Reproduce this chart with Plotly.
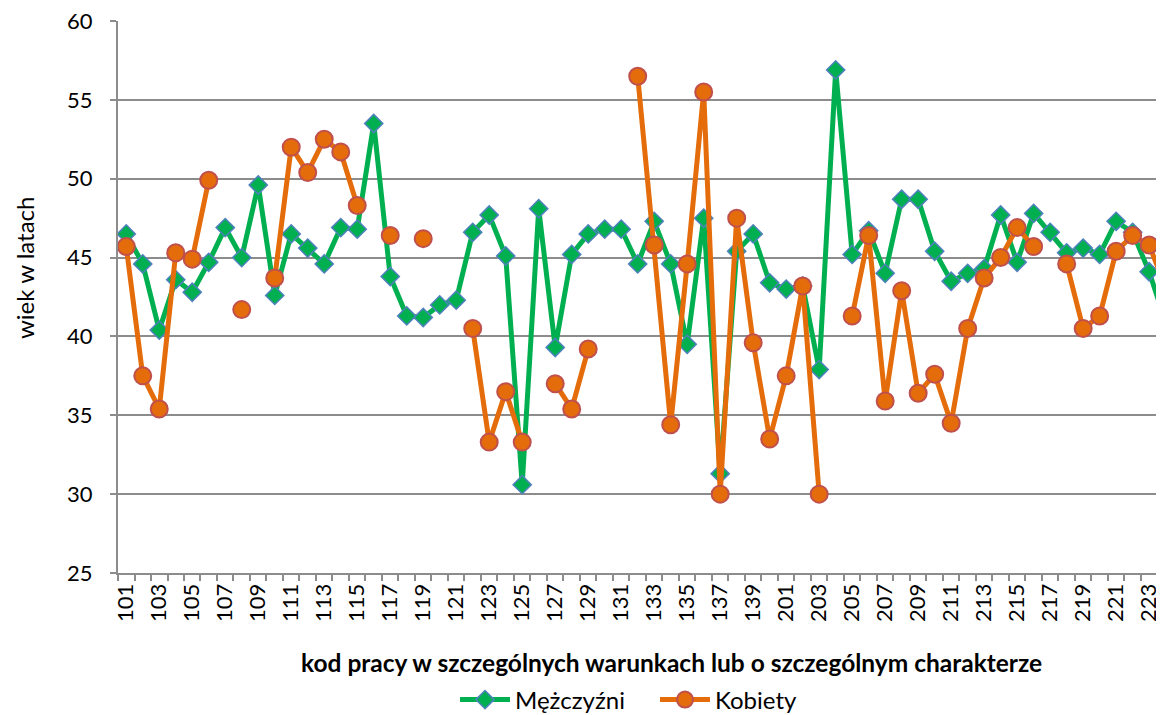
import plotly.graph_objects as go

# Categories: work codes
codes = [str(c) for c in list(range(101, 141)) + list(range(201, 225))]

# Average age – men
men = [46.5, 44.6, 40.4, 43.6, 42.8, 44.7, 46.9, 45.0, 49.6, 42.6,
       46.5, 45.6, 44.6, 46.9, 46.8, 53.5, 43.8, 41.3, 41.2, 42.0,
       42.3, 46.6, 47.7, 45.1, 30.6, 48.1, 39.3, 45.2, 46.5, 46.8,
       46.8, 44.6, 47.3, 44.6, 39.5, 47.5, 31.3, 45.4, 46.5, 43.4,
       43.0, 43.2, 37.9, 56.9, 45.2, 46.7, 44.0, 48.7, 48.7, 45.4,
       43.5, 44.0, 44.3, 47.7, 44.7, 47.8, 46.6, 45.3, 45.6, 45.2,
       47.3, 46.6, 44.1, 40.9]

# Average age – women (None = no data)
women = [45.7, 37.5, 35.4, 45.3, 44.9, 49.9, None, 41.7, None, 43.7,
         52.0, 50.4, 52.5, 51.7, 48.3, None, 46.4, None, 46.2, None,
         None, 40.5, 33.3, 36.5, 33.3, None, 37.0, 35.4, 39.2, None,
         None, 56.5, 45.8, 34.4, 44.6, 55.5, 30.0, 47.5, 39.6, 33.5,
         37.5, 43.2, 30.0, None, 41.3, 46.4, 35.9, 42.9, 36.4, 37.6,
         34.5, 40.5, 43.7, 45.0, 46.9, 45.7, None, 44.6, 40.5, 41.3,
         45.4, 46.4, 45.8, 43.1]

names = ["Mężczyźni", "Kobiety"]
y_title = "wiek w latach"
x_title = "kod pracy w szczególnych warunkach lub o szczególnym charakterze"

x_idx = list(range(len(codes)))
tick_vals = x_idx[::2]
tick_text = codes[::2]
boundaries = [i - 0.5 for i in range(len(codes) + 1)]

FONT = "Lato, Calibri, sans-serif"
GRID = "#8c8c8c"

fig = go.Figure()
fig.add_trace(go.Scatter(
    x=x_idx, y=men, name=names[0], mode="lines+markers",
    line=dict(color="#00B050", width=5),
    marker=dict(symbol="diamond", size=14, color="#00B050",
                line=dict(color="#4F81BD", width=1.5)),
    cliponaxis=False,
))
fig.add_trace(go.Scatter(
    x=x_idx, y=women, name=names[1], mode="lines+markers",
    line=dict(color="#E46C0A", width=5),
    marker=dict(symbol="circle", size=17, color="#E46C0A",
                line=dict(color="#C0504D", width=2)),
    cliponaxis=False,
))

# page body has an 8px margin, so the figure is shifted by 8px;
# size and margins compensate so the plot lands where the reference has it
fig.update_layout(
    width=1156, height=707,
    margin=dict(l=110, r=0, t=13, b=142, autoexpand=False),
    paper_bgcolor="white", plot_bgcolor="white",
    font=dict(family=FONT, size=22, color="black"),
    showlegend=True,
    legend=dict(orientation="h", x=(655 - 118) / 1046, xanchor="center",
                y=(573 - 700) / 552, yanchor="middle",
                font=dict(family=FONT, size=24, color="black"),
                itemwidth=50, entrywidth=135, entrywidthmode="pixels",
                bgcolor="rgba(0,0,0,0)"),
    xaxis=dict(
        range=[-0.5, 62.9], automargin=False,
        tickmode="array", tickvals=tick_vals, ticktext=tick_text,
        tickangle=-90, ticks="", showgrid=False, zeroline=False,
        showline=True, linecolor=GRID, linewidth=2,
        ticklabeloverflow="allow",
        tickfont=dict(family=FONT, size=22, color="black"),
        minor=dict(tickmode="array", tickvals=boundaries, ticks="outside",
                   ticklen=6, tickwidth=2, tickcolor=GRID, showgrid=False),
    ),
    yaxis=dict(
        range=[25, 60], dtick=5, tick0=25, automargin=False,
        showgrid=True, gridcolor=GRID, gridwidth=2, zeroline=False,
        showline=True, linecolor=GRID, linewidth=2,
        ticks="outside", ticklen=6, tickwidth=2, tickcolor=GRID,
        ticklabelstandoff=13, ticklabeloverflow="allow",
        tickfont=dict(family=FONT, size=22, color="black"),
    ),
    annotations=[
        dict(text=y_title, textangle=-90, xref="paper", yref="paper",
             x=(24 - 118) / 1046, y=(573 - 268) / 552,
             xanchor="center", yanchor="middle", showarrow=False,
             borderpad=0,
             font=dict(family=FONT, size=24, color="black")),
        dict(text="<b>" + x_title + "</b>", xref="paper", yref="paper",
             x=(671 - 118) / 1046, y=(573 - 662) / 552,
             xanchor="center", yanchor="middle", showarrow=False,
             font=dict(family=FONT, size=24.5, color="black")),
    ],
)

fig.write_html("out.html")
